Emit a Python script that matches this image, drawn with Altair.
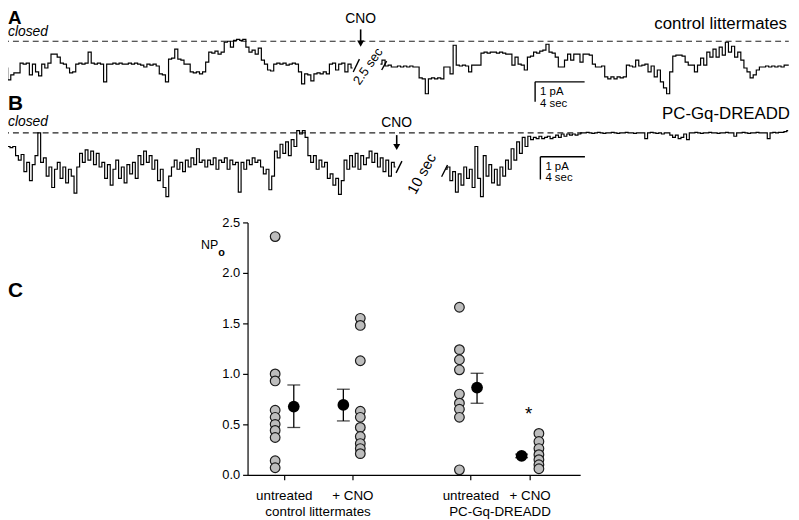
import altair as alt
import pandas as pd

FONT = "Liberation Sans"

# ---------------- Panel A: control littermates (current in pA, 0 = closed level) ----------------
A_DT = 0.25  # s between samples
A_SEG1_START = 0.0
A_SEG1 = [-1.15, -1.35, -1.95, -1.7, -1.6, -1.6, -1.1, -1.15, -1.1, -1.7,
          -1.15, -1.55, -1.75, -1.15, -1.35, -1.1, -0.65, -0.65, -0.8, -1.1,
          -1.15, -1.35, -1.6, -1.55, -1.15, -1.1, -1.15, -1.1, -0.55, -1.1,
          -1.15, -1.1, -1.15, -2.05, -1.15, -1.15, -1.1, -1.15, -1.1, -1.15,
          -1.15, -1.1, -1.15, -1.1, -1.15, -1.2, -1.3, -1.15, -1.2, -1.15,
          -1.25, -1.65, -1.7, -2.05, -0.9, -0.85, -0.4, -0.9, -0.95, -1.15,
          -1.15, -1.55, -1.6, -1.55, -1.65, -1.55, -1.05, -0.55, -0.6, -0.5,
          -0.65, -0.55, -0.05, 0.0, -0.3, 0.05, 0.1, 0.05, 0.1, -0.3,
          -0.55, -0.45, -0.65, -0.35, -0.95, -1.15, -1.45, -1.5, -1.15, -1.1,
          -1.15, -1.1, -1.2, -1.15, -1.1, -1.15, -1.55, -2.15, -1.65, -1.7,
          -2.0, -1.65, -1.6, -1.65, -1.55, -1.65, -1.15, -1.1, -1.45, -1.15,
          -1.1, -1.55, -1.15, -1.35]
A_SEG2_START = 30.5
A_SEG2 = [-1.15, -0.95, -1.25, -1.2, -1.3, -1.3, -1.25, -1.3, -1.25, -1.3,
          -1.25, -1.3, -1.3, -1.85, -1.9, -2.65, -1.9, -1.85, -1.9, -1.85,
          -1.9, -1.3, -1.3, -1.65, -0.2, -1.2, -1.25, -1.2, -1.25, -1.55,
          -1.2, -1.2, -1.2, -0.6, -0.55, -0.6, -0.55, -0.55, -0.6, -0.55,
          -0.6, -0.65, -0.65, -1.2, -0.8, -1.15, -1.2, -1.45, -0.8, -0.75,
          -0.55, -0.6, -0.5, -0.45, -0.15, -0.55, -0.6, -0.8, -1.3, -1.3,
          -0.95, -0.65, -0.95, -0.65, -0.65, -1.05, -0.65, -0.65, -0.7, -1.15,
          -1.3, -1.3, -1.25, -1.8, -1.9, -1.8, -1.9, -1.8, -1.85, -1.8,
          -1.2, -1.25, -1.3, -0.95, -1.25, -1.2, -1.15, -1.55, -1.25, -1.8,
          -1.45, -2.05, -2.35, -2.65, -1.55, -0.75, -0.7, -0.7, -0.75, -1.05,
          -1.2, -1.2, -1.55, -1.2, -0.85, -1.2, -0.55, -0.8, -0.4, -0.8,
          -0.3, -0.7, -0.05, -0.55, -0.25, -0.8, -0.55, -0.95, -1.35, -1.55,
          -1.85, -1.7, -1.45, -1.3, -1.3, -1.25, -1.3, -1.25, -1.3, -1.25,
          -1.3, -1.2, -1.2]

# ---------------- Panel B: PC-Gq-DREADD ----------------
B_DT = 0.25
B_SEG1_START = 0.0
B_SEG1 = [-0.6, -0.55, -0.6, -0.65, -0.6, -1.0, -1.2, -0.95, -1.7, -1.3,
          -2.1, -1.4, -1.0, 0.0, -1.3, -1.1, -1.9, -1.5, -2.4, -1.6,
          -1.3, -2.0, -1.5, -2.2, -1.6, -1.9, -2.65, -1.5, -0.9, -1.3,
          -0.75, -1.2, -0.8, -1.4, -0.9, -1.5, -1.3, -2.0, -1.4, -2.3,
          -1.6, -1.2, -2.0, -1.5, -2.2, -1.4, -1.8, -1.3, -2.0, -1.0,
          -1.4, -0.8, -1.3, -1.0, -1.6, -1.2, -2.1, -1.6, -2.4, -2.8,
          -1.9, -1.5, -1.2, -1.6, -1.3, -1.7, -1.2, -1.5, -1.1, -1.4,
          -0.7, -1.3, -1.2, -1.5, -1.2, -1.4, -1.1, -1.6, -1.2, -1.3,
          -1.1, -1.6, -1.2, -1.4, -1.3, -2.6, -1.3, -1.6, -1.2, -1.4,
          -1.1, -1.3, -1.2, -1.5, -1.8, -1.6, -2.5, -1.9, -0.8, -1.1,
          -0.5, -0.9, -0.4, -1.0, -0.3, -0.6, 0.1, -0.05, 0.1, -0.2,
          -1.0, -1.3, -1.0, -1.6, -1.2, -1.5, -1.3, -2.0, -1.8, -2.3,
          -2.0, -2.7, -2.1, -1.2, -1.6, -1.0, -1.5, -0.9, -1.6, -1.0,
          -1.4, -1.1, -0.8, -1.3, -0.9, -1.5, -1.1, -1.7, -1.2, -1.9,
          -1.3, -1.5]
B_SEG2_START = 39.75
B_SEG2 = [-1.6, -1.5, -2.1, -1.7, -2.6, -1.8, -2.3, -1.5, -2.0, -1.6,
          -2.4, -0.6, -2.0, -2.8, -1.0, -1.9, -1.4, -2.2, -1.6, -2.3,
          -1.5, -1.9, -1.2, -1.6, -0.7, -1.2, -0.4, -0.9, -0.2, -0.6,
          -0.15, -0.3, -0.2, -0.25, -0.15, -0.25, -0.2, -0.15, -0.25, -0.2,
          -0.1, -0.2, -0.05, -0.15, -0.05, -0.1, -0.05, -0.1, -0.05, 0.0,
          0.0, 0.02, 0.0, -0.02, 0.0, 0.02, 0.0, -0.02, 0.0, 0.0,
          0.02, 0.0, -0.02, 0.0, 0.0, 0.02, 0.0, 0.0, -0.02, 0.0,
          0.0, 0.0, -0.25, 0.0, 0.02, 0.0, -0.02, 0.0, -0.05, 0.0,
          0.0, -0.1, -0.2, -0.1, -0.25, -0.2, -0.05, -0.3, 0.0, 0.0,
          0.02, 0.0, -0.02, 0.0, 0.0, 0.02, 0.0, 0.0, -0.02, 0.0,
          0.0, 0.02, 0.0, 0.0, -0.15, 0.0, 0.0, 0.02, 0.0, -0.02,
          0.0, 0.0, 0.02, 0.0, 0.0, 0.0, -0.25, 0.0, 0.02, 0.0,
          0.02, 0.02, 0.05, 0.1]

# ---------------- Panel C: NPo ----------------
C_GROUPS = ["untreated", "+ CNO", "untreated", "+ CNO"]
C_GENOTYPES = ["control littermates", "PC-Gq-DREADD"]
C_TICK_POS = [1.09, 3.15, 6.70, 8.48]
C_POINT_POS = [0.83, 3.39, 6.37, 8.76]
C_MEAN_POS = [1.39, 2.88, 6.90, 8.24]
C_VALUES = [
    [2.36, 1.00, 0.93, 0.64, 0.57, 0.50, 0.44, 0.37, 0.14, 0.07],
    [1.55, 1.48, 1.13, 0.63, 0.57, 0.47, 0.38, 0.31, 0.26, 0.21],
    [1.66, 1.24, 1.14, 1.04, 0.80, 0.71, 0.65, 0.57, 0.05],
    [0.41, 0.33, 0.26, 0.20, 0.15, 0.10, 0.06],
]
C_MEANS = [0.676, 0.692, 0.864, 0.188]
C_ERR_LO = [0.469, 0.534, 0.709, 0.170]
C_ERR_HI = [0.890, 0.848, 1.006, 0.205]


def trace_df(segments):
    rows = []
    for s, (start, dt, vals) in enumerate(segments):
        for i, v in enumerate(vals):
            rows.append({"t": start + i * dt, "I": v, "seg": s})
    return pd.DataFrame(rows)


dfA = trace_df([(A_SEG1_START, A_DT, A_SEG1), (A_SEG2_START, A_DT, A_SEG2)])
dfB = trace_df([(B_SEG1_START, B_DT, B_SEG1), (B_SEG2_START, B_DT, B_SEG2)])


def panel_trace(df, sx, sy, closed_end, breaks, bar, bar_txt, cno, gap_txt):
    X = alt.X("t:Q", scale=sx, axis=None)
    Y = alt.Y("I:Q", scale=sy, axis=None)
    trace = alt.Chart(df).mark_line(color="black", strokeWidth=1.2, interpolate="step").encode(
        x=X, y=Y, detail="seg:N")
    closed = alt.Chart(pd.DataFrame({"t": [0.0], "t2": [closed_end], "I": [0.0]})).mark_rule(
        color="#222", strokeDash=[6, 4], strokeWidth=1.2).encode(x=X, x2="t2:Q", y=Y)
    brk = alt.Chart(pd.DataFrame(breaks)).mark_rule(color="black", strokeWidth=1.4).encode(
        x=X, x2="t2:Q", y=Y, y2="I2:Q")
    bt, bi, blen_t, blen_i = bar
    sbar = alt.Chart(pd.DataFrame({"t": [bt, bt], "t2": [bt, bt + blen_t],
                                   "I": [bi, bi], "I2": [bi - blen_i, bi]})).mark_rule(
        color="black", strokeWidth=1.4).encode(x=X, x2="t2:Q", y=Y, y2="I2:Q")
    stxt = alt.Chart(pd.DataFrame(bar_txt)).mark_text(
        font=FONT, fontSize=11.5, align="left", baseline="middle", color="black").encode(
        x=X, y=Y, text="label:N")
    ct, ctext_i, c_top, c_bot = cno
    cno_txt = alt.Chart(pd.DataFrame({"t": [ct], "I": [ctext_i], "label": ["CNO"]})).mark_text(
        font=FONT, fontSize=14, align="center", baseline="middle", color="black").encode(
        x=X, y=Y, text="label:N")
    cno_stem = alt.Chart(pd.DataFrame({"t": [ct], "I": [c_top], "I2": [c_bot]})).mark_rule(
        color="black", strokeWidth=1.6).encode(x=X, y=Y, y2="I2:Q")
    cno_head = alt.Chart(pd.DataFrame({"t": [ct], "I": [c_bot]})).mark_point(
        shape="triangle-down", filled=True, color="black", size=50, opacity=1).encode(x=X, y=Y)
    gt, gi, gangle, gsize, glabel = gap_txt
    gap = alt.Chart(pd.DataFrame({"t": [gt], "I": [gi], "label": [glabel]})).mark_text(
        font=FONT, fontSize=gsize, angle=gangle, align="center", baseline="middle",
        color="black").encode(x=X, y=Y, text="label:N")
    return alt.layer(closed, trace, brk, sbar, stxt, cno_stem, cno_head, cno_txt, gap)


SXA = alt.Scale(domain=[0, 64], range=[-5, 795], nice=False, zero=False)
SYA = alt.Scale(domain=[-3, 1], range=[91, 11], nice=False, zero=False)
SXB = alt.Scale(domain=[0, 72], range=[-5, 805], nice=False, zero=False)
SYB = alt.Scale(domain=[-3, 1], range=[192.5, 100.5], nice=False, zero=False)

panelA = panel_trace(
    dfA, SXA, SYA, 63.5,
    {"t": [28.3, 30.6], "t2": [28.8, 31.0], "I": [-1.55, -1.45], "I2": [-0.9, -1.0]},
    (43.0, -2.05, 4, 1),
    {"t": [43.4, 43.4], "I": [-2.55, -3.15], "label": ["1 pA", "4 sec"]},
    (28.9, 1.1, 0.6, -0.12),
    (29.5, -1.27, 305, 13, "2.5 sec"),
)
panelB = panel_trace(
    dfB, SXB, SYB, 52.0,
    {"t": [35.29, 39.38], "t2": [35.82, 39.91], "I": [-1.76, -1.93], "I2": [-1.24, -1.41]},
    (48.25, -1.05, 4, 1),
    {"t": [48.7, 48.7], "I": [-1.48, -1.98], "label": ["1 pA", "4 sec"]},
    (35.35, 0.41, -0.1, -0.62),
    (37.6, -1.8, 299, 15, "10 sec"),
)

# ---------------- Panel C ----------------
SXC = alt.Scale(domain=[0, 10], range=[242, 578], nice=False, zero=False)
SYC = alt.Scale(domain=[0, 2.5], range=[469, 214], nice=False, zero=False)

pts = pd.DataFrame([{"pos": C_POINT_POS[g], "value": v} for g in range(4) for v in C_VALUES[g]])
means = pd.DataFrame({"pos": C_MEAN_POS, "mean": C_MEANS, "lo": C_ERR_LO, "hi": C_ERR_HI})

x_axis = alt.Axis(values=C_TICK_POS, title=None, grid=False,
                  labelExpr="(datum.value < 2.5 || (datum.value > 5 && datum.value < 7.5)) ? 'untreated' : '+ CNO'",
                  domainColor="black", tickColor="black", domainWidth=1.2, tickWidth=1.2,
                  tickSize=5, labelFont=FONT, labelFontSize=13.5, labelColor="black",
                  labelPadding=9, labelFlush=False, labelOverlap=False)
y_axis = alt.Axis(values=[0, 0.5, 1.0, 1.5, 2.0, 2.5], format=".1f", title=None, grid=False,
                  offset=-242, domainColor="black", tickColor="black", domainWidth=1.2,
                  tickWidth=1.2, tickSize=5, labelFont=FONT, labelFontSize=13,
                  labelColor="black", labelPadding=3, labelFlush=False, labelOverlap=False)

XC = alt.X("pos:Q", scale=SXC, axis=x_axis)
stems = alt.Chart(means).mark_rule(color="black", strokeWidth=1.3).encode(
    x=XC, y=alt.Y("lo:Q", scale=SYC, axis=y_axis), y2="hi:Q")
cap_lo = alt.Chart(means).mark_tick(orient="horizontal", size=13, thickness=1.3, color="black").encode(
    x=XC, y=alt.Y("lo:Q", scale=SYC, axis=y_axis))
cap_hi = alt.Chart(means).mark_tick(orient="horizontal", size=13, thickness=1.3, color="black").encode(
    x=XC, y=alt.Y("hi:Q", scale=SYC, axis=y_axis))
mean_dots = alt.Chart(means).mark_circle(color="black", size=140, opacity=1).encode(
    x=XC, y=alt.Y("mean:Q", scale=SYC, axis=y_axis))
points = alt.Chart(pts).mark_circle(color="#bdbdbd", stroke="#1a1a1a", strokeWidth=1.2,
                                    size=95, opacity=1).encode(
    x=XC, y=alt.Y("value:Q", scale=SYC, axis=y_axis))
star = alt.Chart(pd.DataFrame({"pos": [8.45], "value": [0.54], "label": ["*"]})).mark_text(
    font=FONT, fontSize=19, baseline="alphabetic", align="center", color="black").encode(
    x=XC, y=alt.Y("value:Q", scale=SYC, axis=y_axis), text="label:N")
geno = alt.Chart(pd.DataFrame({
    "pos": [(C_TICK_POS[0] + C_TICK_POS[1]) / 2, (C_TICK_POS[2] + C_TICK_POS[3]) / 2],
    "label": C_GENOTYPES})).mark_text(
    font=FONT, fontSize=13.5, align="center", baseline="middle", color="black").encode(
    x=XC, y=alt.value(506.5), text="label:N")

panelC = alt.layer(stems, cap_lo, cap_hi, mean_dots, points, star, geno)


# ---------------- free annotations ----------------
def label(text, x, y, **kw):
    style = dict(font=FONT, color="black", baseline="middle", align="left")
    style.update(kw)
    return alt.Chart(pd.DataFrame({"label": [text]})).mark_text(**style).encode(
        x=alt.value(x), y=alt.value(y), text="label:N")


ann = alt.layer(
    label("A", 0, 14, fontSize=19, fontWeight="bold", baseline="alphabetic"),
    label("B", 0, 100, fontSize=21, fontWeight="bold", baseline="alphabetic"),
    label("C", 0, 289, fontSize=21, fontWeight="bold", baseline="alphabetic"),
    label("closed", 0, 22, fontSize=14, fontStyle="italic"),
    label("closed", 0, 113, fontSize=14, fontStyle="italic"),
    label("control littermates", 787, 14, fontSize=17, align="right"),
    label("PC-Gq-DREADD", 790, 105, fontSize=17, align="right"),
    label("NP", 195, 237, fontSize=12.5),
    label("o", 212.5, 245, fontSize=11, fontWeight="bold"),
)

chart = alt.layer(panelA, panelB, panelC, ann).resolve_scale(
    x="independent", y="independent"
).properties(
    width=783, height=469,
    padding={"left": 0, "top": 0, "right": 8, "bottom": 43},
    autosize=alt.AutoSizeParams(type="none"),
).configure_view(stroke=None)

chart.save("out.html", embed_options={"renderer": "svg", "actions": False})
